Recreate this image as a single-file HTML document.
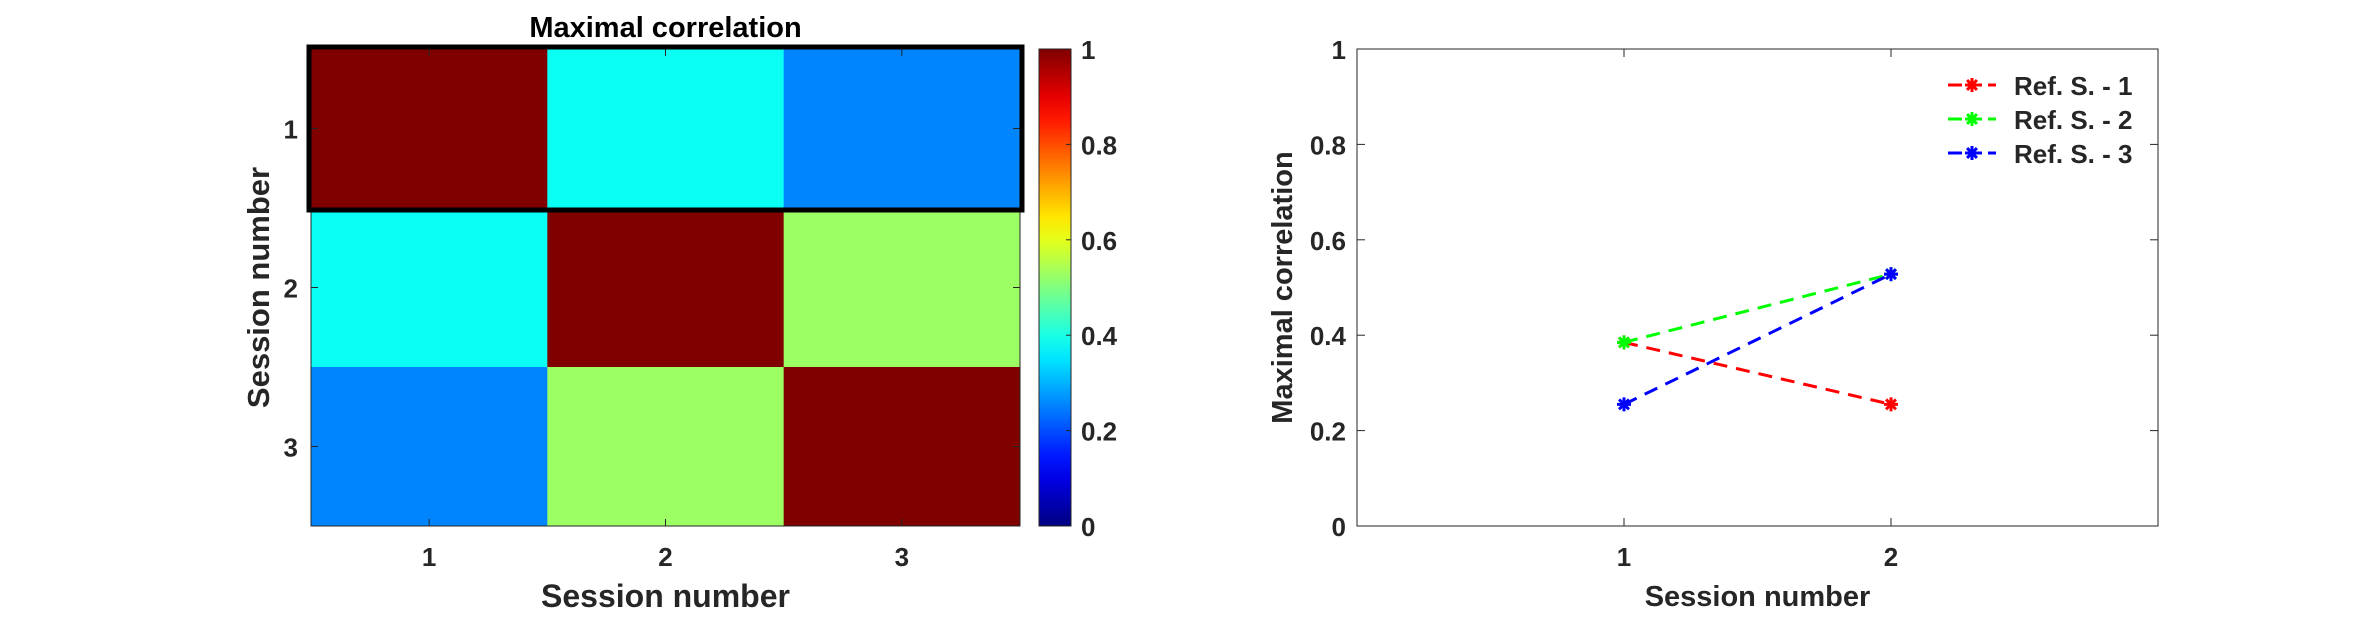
<!DOCTYPE html>
<html><head><meta charset="utf-8"><style>
body{margin:0;background:#fff;}
svg text{font-family:"Liberation Sans",sans-serif;font-weight:bold;fill:#262626;}
</style></head><body>
<svg id="svg" width="2375" height="614" xmlns="http://www.w3.org/2000/svg">
<rect width="2375" height="614" fill="#fff"/>
<g id="hm"></g>
<g id="cb"></g>
<g id="lp"></g>
</svg>
<script>
const sessions = [1, 2, 3];
const matrix = [[1, 0.385, 0.255],[0.385, 1, 0.528],[0.255, 0.528, 1]];
const lineX = [1, 2];
const seriesNames = ["Ref. S. - 1", "Ref. S. - 2", "Ref. S. - 3"];
const series1 = [0.385, 0.255];
const series2 = [0.385, 0.528];
const series3 = [0.255, 0.528];
const yTicks = [0, 0.2, 0.4, 0.6, 0.8, 1];
const NS = "http://www.w3.org/2000/svg";
function mk(tag, attrs, parent, txt){const e=document.createElementNS(NS,tag);for(const k in attrs)e.setAttribute(k,attrs[k]);if(txt!==undefined)e.textContent=txt;parent.appendChild(e);return e;}
function jet(v){
  function c(x){return Math.max(0,Math.min(1,x));}
  const r=c(1.5-Math.abs(4*v-3)), g=c(1.5-Math.abs(4*v-2)), b=c(1.5-Math.abs(4*v-1));
  return `rgb(${Math.round(r*255)},${Math.round(g*255)},${Math.round(b*255)})`;
}
// Heatmap
const hm=document.getElementById('hm');
const HL=311,HR=1020,HT=49,HB=526;
const cw=(HR-HL)/sessions.length, ch=(HB-HT)/sessions.length;
const hx=i=>HL+cw*(i+0.5), hy=i=>HT+ch*(i+0.5);
matrix.forEach((row,i)=>row.forEach((v,j)=>{
  const r=mk('rect',{x:HL+cw*j,y:HT+ch*i,width:cw+0.5,height:ch+0.5,fill:jet(v)},hm);
  
  
}));
mk('rect',{x:HL,y:HT,width:HR-HL,height:HB-HT,fill:'none',stroke:'#262626','stroke-width':1},hm);
sessions.forEach((s,i)=>{
  mk('line',{x1:hx(i),x2:hx(i),y1:HB,y2:HB-7,stroke:'#262626'},hm);
  mk('line',{x1:hx(i),x2:hx(i),y1:HT,y2:HT+7,stroke:'#262626'},hm);
  mk('line',{x1:HL,x2:HL+7,y1:hy(i),y2:hy(i),stroke:'#262626'},hm);
  mk('line',{x1:HR,x2:HR-7,y1:hy(i),y2:hy(i),stroke:'#262626'},hm);
  const t=mk('text',{x:hx(i),y:566,'text-anchor':'middle','font-size':26},hm,s);
  
  const u=mk('text',{x:298,y:hy(i)+10,'text-anchor':'end','font-size':26},hm,s);
  
});
const hl=mk('rect',{x:HL-2,y:HT-2,width:HR-HL+4,height:ch+4,fill:'none',stroke:'#000','stroke-width':5},hm);

let t=mk('text',{x:(HL+HR)/2,y:37,'text-anchor':'middle','font-size':29,style:'fill:#000'},hm,'Maximal correlation');

t=mk('text',{x:(HL+HR)/2,y:607,'text-anchor':'middle','font-size':32},hm,'Session number');

t=mk('text',{x:269,y:(HT+HB)/2,'text-anchor':'middle','font-size':31,transform:`rotate(-90 269 ${(HT+HB)/2})`},hm,'Session number');

// Colorbar
const cb=document.getElementById('cb');
const CL=1039,CR=1071;
const cy=v=>HB-(HB-HT)*v;
const defs=mk('defs',{},cb);
const gr=mk('linearGradient',{id:'jetg',x1:0,y1:1,x2:0,y2:0},defs);
for(let k=0;k<=20;k++)mk('stop',{offset:k/20,'stop-color':jet(k/20)},gr);
mk('rect',{x:CL,y:HT,width:CR-CL,height:HB-HT,fill:'url(#jetg)',stroke:'#262626'},cb);
yTicks.forEach(v=>{
  mk('line',{x1:CR,x2:CR-5,y1:cy(v),y2:cy(v),stroke:'#262626'},cb);
  const l=mk('text',{x:1081,y:cy(v)+10,'font-size':26},cb,v);
  
});
// Line plot
const lp=document.getElementById('lp');
const PL=1357,PR=2158,PT=49,PB=526;
const px=v=>PL+(PR-PL)*v/3, py=v=>PB-(PB-PT)*v;
mk('rect',{x:PL,y:PT,width:PR-PL,height:PB-PT,fill:'none',stroke:'#262626'},lp);
lineX.forEach(v=>{
  mk('line',{x1:px(v),x2:px(v),y1:PB,y2:PB-8,stroke:'#262626'},lp);
  mk('line',{x1:px(v),x2:px(v),y1:PT,y2:PT+8,stroke:'#262626'},lp);
  const l=mk('text',{x:px(v),y:566,'text-anchor':'middle','font-size':26},lp,v);
  
});
yTicks.forEach(v=>{
  mk('line',{x1:PL,x2:PL+8,y1:py(v),y2:py(v),stroke:'#262626'},lp);
  mk('line',{x1:PR,x2:PR-8,y1:py(v),y2:py(v),stroke:'#262626'},lp);
  const l=mk('text',{x:1346,y:py(v)+10,'text-anchor':'end','font-size':26},lp,v);
  
});
t=mk('text',{x:(PL+PR)/2,y:606,'text-anchor':'middle','font-size':29},lp,'Session number');

t=mk('text',{x:1292,y:(PT+PB)/2,'text-anchor':'middle','font-size':29,transform:`rotate(-90 1292 ${(PT+PB)/2})`},lp,'Maximal correlation');

function star(x,y,col,g){
  for(let a=0;a<4;a++){const an=a*Math.PI/4;mk('line',{x1:x-7*Math.cos(an),y1:y-7*Math.sin(an),x2:x+7*Math.cos(an),y2:y+7*Math.sin(an),stroke:col,'stroke-width':3},g);}
}
const allSeries=[series1,series2,series3], colors=['#ff0000','#00ff00','#0000ff'];
allSeries.forEach((s,k)=>{
  const g=mk('g',{},lp);
  
  
  mk('polyline',{points:s.map((v,i)=>px(lineX[i])+','+py(v)).join(' '),fill:'none',stroke:colors[k],'stroke-width':3,'stroke-dasharray':'14,9'},g);
  s.forEach((v,i)=>star(px(lineX[i]),py(v),colors[k],g));
  const ly=85+34*k;
  const le=mk('g',{},lp);
  
  
  mk('line',{x1:1948,x2:1996,y1:ly,y2:ly,stroke:colors[k],'stroke-width':3,'stroke-dasharray':'14,6'},le);
  star(1972,ly,colors[k],le);
  mk('text',{x:2014,y:ly+10,'font-size':26},le,seriesNames[k]);
});
</script>
</body></html>
